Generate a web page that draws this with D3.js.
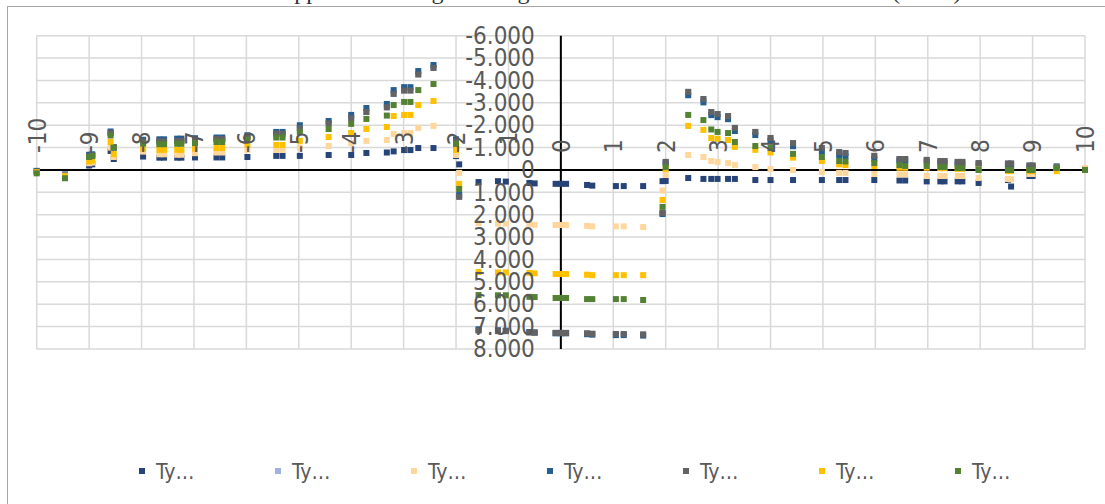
<!DOCTYPE html>
<html><head><meta charset="utf-8">
<script src="https://cdn.jsdelivr.net/npm/d3@7"></script>
<style>
body{margin:0;background:#fff}
svg{display:block}
.lbl{font-family:"DejaVu Sans Condensed","DejaVu Sans",sans-serif;font-stretch:condensed;fill:#595959}
</style>
</head><body>
<svg id="c" width="1105" height="504"></svg>
<script>
const xTicks = [-10,-9,-8,-7,-6,-5,-4,-3,-2,-1,0,1,2,3,4,5,6,7,8,9,10];
const yTicks = [-6000,-5000,-4000,-3000,-2000,-1000,0,1000,2000,3000,4000,5000,6000,7000,8000];
const legendLabels = ["Ty…","Ty…","Ty…","Ty…","Ty…","Ty…","Ty…"];
const titleText = "Dropped Head Angle Change Relative to the Reference Direction (mm/s)";

const xValues = [
 -10,-9.46,-9.0,-8.94,-8.59,-8.53,-7.97,-7.66,-7.57,-7.32,-7.24,-6.98,-6.57,-6.46,-5.98,-5.43,-5.31,-4.98,-4.43,-4.0,-3.71,-3.32,-3.19,-2.99,-2.87,-2.72,-2.43,-2.0,
 -1.94,-1.57,-1.2,-1.05,-0.6,-0.5,-0.1,0,0.1,0.5,0.6,1.05,1.2,1.57,1.94,
 2.0,2.43,2.72,2.87,2.99,3.19,3.32,3.71,4.0,4.43,4.98,5.31,5.43,5.98,6.46,6.57,6.98,7.24,7.32,7.57,7.66,7.97,8.53,8.59,8.94,9.0,9.46,10
];
const series1 = [
 40,200,-200,-250,-850,-490,-600,-550,-550,-550,-550,-560,-560,-560,-580,-630,-630,-630,-670,-670,-760,-780,-830,-890,-890,-980,-980,-620,
 -250,540,500,520,580,600,620,620,620,670,700,720,720,720,500,
 490,360,400,400,400,400,400,450,450,450,450,450,450,450,470,470,510,510,510,510,510,580,450,740,270,270,-160,0
];
const series2 = [
 80,320,-600,-660,-1650,-1000,-1280,-1280,-1280,-1300,-1300,-1320,-1380,-1380,-1480,-1620,-1620,-1870,-2080,-2320,-2590,-2800,-3400,-3550,-3550,-4270,-4560,-1280,
 1200,7170,7200,7200,7260,7270,7280,7280,7280,7300,7320,7330,7330,7350,1920,
 -360,-3490,-3170,-2590,-2500,-2410,-1880,-1700,-1430,-1200,-980,-800,-760,-630,-490,-490,-450,-400,-400,-360,-360,-310,-290,-290,-200,-200,-120,0
];
const series3 = [
 60,250,-300,-330,-1000,-580,-820,-700,-700,-680,-680,-750,-780,-780,-900,-900,-900,-1000,-1070,-1200,-1300,-1340,-1610,-1650,-1650,-1880,-1970,-670,
 130,2370,2400,2400,2410,2450,2460,2460,2460,2500,2520,2520,2520,2550,920,
 220,-670,-580,-400,-360,-310,-220,-130,-40,0,90,130,130,180,200,200,270,270,270,270,270,360,400,420,180,180,-100,-90
];
const series4 = [
 50,300,-680,-700,-1720,-1020,-1350,-1370,-1370,-1400,-1400,-1420,-1450,-1450,-1550,-1700,-1700,-2000,-2190,-2460,-2770,-2950,-3570,-3700,-3700,-4420,-4690,-1370,
 1120,7120,7160,7180,7240,7260,7300,7300,7300,7340,7360,7380,7380,7400,1970,
 -300,-3340,-3020,-2450,-2360,-2270,-1740,-1560,-1290,-1060,-840,-660,-620,-500,-400,-400,-360,-320,-320,-280,-280,-240,-220,-220,-150,-150,-100,0
];
const series5 = [
 80,320,-600,-660,-1650,-1000,-1280,-1280,-1280,-1300,-1300,-1320,-1380,-1380,-1480,-1620,-1620,-1870,-2080,-2320,-2590,-2800,-3400,-3550,-3550,-4270,-4560,-1280,
 1200,7170,7200,7200,7260,7270,7280,7280,7280,7300,7320,7330,7330,7350,1920,
 -360,-3490,-3170,-2590,-2500,-2410,-1880,-1700,-1430,-1200,-980,-800,-760,-630,-490,-490,-450,-400,-400,-360,-360,-310,-290,-290,-200,-200,-120,0
];
const series6 = [
 100,280,-380,-420,-1250,-710,-950,-900,-900,-900,-900,-950,-980,-980,-1120,-1120,-1120,-1300,-1470,-1650,-1830,-1920,-2410,-2460,-2460,-2900,-3080,-890,
 620,4560,4580,4580,4600,4620,4650,4650,4650,4680,4700,4700,4700,4700,1340,
 -50,-1970,-1790,-1430,-1390,-1340,-1030,-900,-780,-550,-400,-250,-220,-180,-100,-100,-100,-80,-80,-50,-50,-20,50,50,50,50,50,0
];
const series7 = [
 150,370,-580,-620,-1540,-1000,-1180,-1150,-1150,-1170,-1170,-1200,-1250,-1250,-1360,-1450,-1450,-1700,-1830,-2060,-2280,-2430,-2900,-3040,-3040,-3570,-3840,-1160,
 850,5590,5600,5600,5670,5680,5720,5720,5720,5770,5770,5770,5770,5810,1650,
 -130,-2460,-2230,-1810,-1700,-1650,-1250,-1070,-980,-720,-580,-400,-380,-310,-220,-180,-180,-130,-130,-90,-90,0,0,0,0,0,-90,0
];
const seriesColors = ["#264478","#9fb1dc","#ffd79c","#255e91","#636363","#ffc000","#548235"];

const allSeries = [series1,series2,series3,series4,series5,series6,series7];

const svg = d3.select("#c");
const x = d3.scaleLinear().domain([-10,10]).range([36.7,1085]);
const y = d3.scaleLinear().domain([-6000,8000]).range([35.7,349]);
const loc = d3.formatLocale({decimal:",",thousands:".",grouping:[3],currency:["","€"],minus:"-"});
const fmt = loc.format(",.0f");
const fmtX = loc.format("d");

// chart frame
svg.append("rect").attr("x",7.5).attr("y",6.5).attr("width",1110).attr("height",510)
  .attr("fill","none").attr("stroke","#a6a6a6").attr("stroke-width",1);

// title (mostly cut off above the picture)
svg.append("text").attr("x",257).attr("y",-1.5)
  .style("font-family","'Liberation Serif',serif").style("font-size","24px").style("fill","#333")
  .text(titleText);

// grid
const grid = svg.append("g").attr("stroke","#d9d9d9").attr("stroke-width",1.5);
grid.selectAll("line.v").data(xTicks).join("line").attr("class","v")
  .attr("x1",d=>x(d)).attr("x2",d=>x(d)).attr("y1",y(-6000)).attr("y2",y(8000));
grid.selectAll("line.h").data(yTicks).join("line").attr("class","h")
  .attr("y1",d=>y(d)).attr("y2",d=>y(d)).attr("x1",x(-10)).attr("x2",x(10));

// axis lines
svg.append("line").attr("x1",x(-10)).attr("x2",x(10)).attr("y1",y(0)).attr("y2",y(0))
  .attr("stroke","#000").attr("stroke-width",2);
svg.append("line").attr("x1",x(0)).attr("x2",x(0)).attr("y1",y(-6000)).attr("y2",y(8000))
  .attr("stroke","#000").attr("stroke-width",2);

// points
const ms = 6;
allSeries.forEach((vals,i)=>{
  svg.append("g").selectAll("rect").data(vals.map((v,j)=>[xValues[j],v])).join("rect")
    .attr("x",d=>x(d[0])-ms/2).attr("y",d=>y(d[1])-ms/2)
    .attr("width",ms).attr("height",ms).attr("fill",seriesColors[i]);
});

// y-axis labels
const yAxis = svg.append("g").attr("transform",`translate(${x(0)},0)`)
  .call(d3.axisLeft(y).tickValues(yTicks).tickSize(0).tickPadding(26).tickFormat(fmt));
yAxis.select(".domain").remove();
yAxis.selectAll("text").attr("class","lbl").style("font-size","24px").attr("font-family",null).attr("fill",null);

// x-axis labels (rotated)
const xAxis = svg.append("g").attr("transform",`translate(0,${y(0)})`)
  .call(d3.axisTop(x).tickValues(xTicks).tickSize(0).tickFormat(fmtX));
xAxis.select(".domain").remove();
xAxis.selectAll("text").attr("class","lbl").style("font-size","24px").attr("font-family",null).attr("fill",null)
  .attr("transform","rotate(-90)").attr("x",17).attr("y",0).attr("dy","0.35em").attr("text-anchor","start");

// legend
const lx = d3.scalePoint().domain(d3.range(7)).range([142,958]);
const lg = svg.append("g").selectAll("g").data(legendLabels).join("g")
  .attr("transform",(d,i)=>`translate(${lx(i)},471)`);
lg.append("rect").attr("x",-3).attr("y",-3).attr("width",6).attr("height",6).attr("fill",(d,i)=>seriesColors[i]);
lg.append("text").attr("class","lbl").attr("x",14).attr("y",7.5).style("font-size","21px").text(d=>d);
</script>
</body></html>
